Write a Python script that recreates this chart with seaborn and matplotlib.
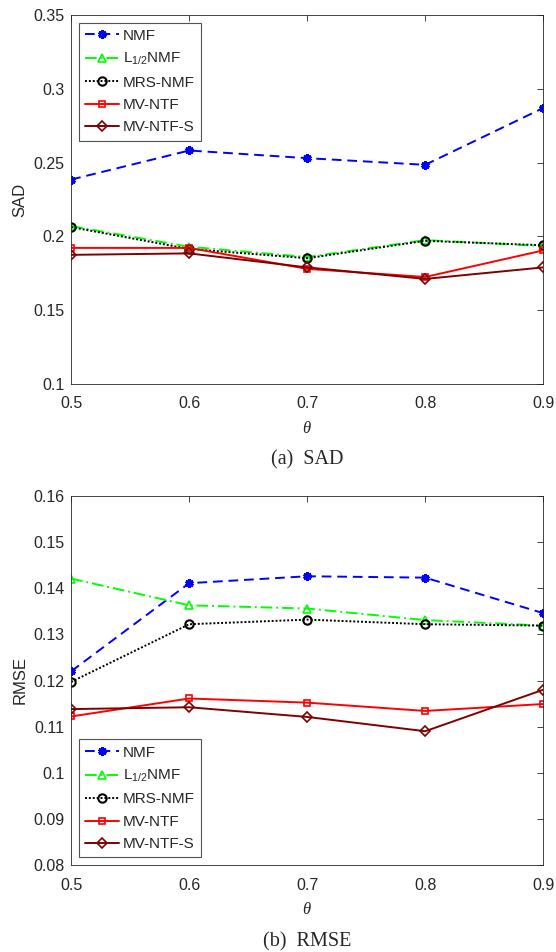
import numpy as np
import pandas as pd
import matplotlib
matplotlib.use('Agg')
import matplotlib.pyplot as plt
import seaborn as sns

# x values (theta)
theta = [0.5, 0.6, 0.7, 0.8, 0.9]
methods = ['NMF', 'L$_{1/2}$NMF', 'MRS-NMF', 'MV-NTF', 'MV-NTF-S']

# SAD values
sad_nmf = [0.2385, 0.2582, 0.2530, 0.2485, 0.2870]
sad_l12 = [0.2070, 0.1930, 0.1860, 0.1975, 0.1935]
sad_mrs = [0.2063, 0.1915, 0.1852, 0.1970, 0.1940]
sad_mvntf = [0.1922, 0.1922, 0.1780, 0.1725, 0.1905]
sad_mvntfs = [0.1875, 0.1885, 0.1790, 0.1712, 0.1790]

# RMSE values
rmse_nmf = [0.1220, 0.1411, 0.1426, 0.1423, 0.1346]
rmse_l12 = [0.1421, 0.1363, 0.1356, 0.1331, 0.1319]
rmse_mrs = [0.1197, 0.1322, 0.1332, 0.1322, 0.1319]
rmse_mvntf = [0.1122, 0.1161, 0.1152, 0.1134, 0.1149]
rmse_mvntfs = [0.1138, 0.1142, 0.1121, 0.1090, 0.1180]

styles = {
    'NMF': dict(color='#0000ff', linestyle=(0, (5, 3)), marker=(6, 2, 0), markersize=6, mew=2.2),
    'L$_{1/2}$NMF': dict(color='#00ff00', linestyle=(0, (6, 2, 1, 2)), marker='^', markersize=6, mfc='none', mew=1.2),
    'MRS-NMF': dict(color='black', linestyle=(0, (1, 1)), marker='o', markersize=6, mfc='none', mew=1.5),
    'MV-NTF': dict(color='#ff0000', linestyle='-', marker='s', markersize=5, mfc='none', mew=1.2),
    'MV-NTF-S': dict(color='#800000', linestyle='-', marker='D', markersize=5, mfc='none', mew=1.2),
}

sns.set_style('white')
plt.rcParams['font.family'] = ['Liberation Sans', 'DejaVu Sans']
plt.rcParams['mathtext.fontset'] = 'custom'
plt.rcParams['mathtext.rm'] = 'Liberation Sans'
plt.rcParams['mathtext.it'] = 'Liberation Serif:italic'

fig = plt.figure(figsize=(5.56, 9.52), dpi=100)
ax1 = fig.add_axes([0.128, 1 - 384 / 952, 0.849, 369 / 952])
ax2 = fig.add_axes([0.128, 1 - 865 / 952, 0.849, 369 / 952])

panels = [
    (ax1, [sad_nmf, sad_l12, sad_mrs, sad_mvntf, sad_mvntfs], 'SAD', (0.1, 0.35),
     np.arange(0.1, 0.351, 0.05), 'upper left', '(a)  SAD', 1 - 460 / 952),
    (ax2, [rmse_nmf, rmse_l12, rmse_mrs, rmse_mvntf, rmse_mvntfs], 'RMSE', (0.08, 0.16),
     np.arange(0.08, 0.161, 0.01), 'lower left', '(b)  RMSE', 1 - 942 / 952),
]

for ax, series, ylabel, ylim, yticks, loc, caption, cap_y in panels:
    for name, vals in zip(methods, series):
        df = pd.DataFrame({'theta': theta, 'value': vals})
        st = styles[name]
        sns.lineplot(data=df, x='theta', y='value', ax=ax, label=name,
                     color=st['color'], linestyle=st['linestyle'], marker=st['marker'],
                     markersize=st['markersize'], markeredgewidth=st['mew'],
                     markerfacecolor=st.get('mfc', st['color']),
                     markeredgecolor=st['color'], linewidth=1.4)
    ax.set_xlim(0.5, 0.9)
    ax.set_ylim(*ylim)
    ax.set_xticks(theta)
    ax.set_xticklabels([f'{t:g}' for t in theta])
    ax.set_yticks(yticks)
    ax.set_yticklabels([f'{t:g}' for t in yticks])
    ax.tick_params(direction='in', length=4, top=True, right=True, labelsize=11.5,
                   colors='#262626', width=0.6)
    ax.tick_params(axis='x', pad=9)
    ax.tick_params(axis='y', pad=5)
    for sp in ax.spines.values():
        sp.set_color('#262626')
        sp.set_linewidth(0.6)
    ax.set_ylabel(ylabel, fontsize=12, color='#262626', labelpad=4)
    ax.set_xlabel(r'$\it{\theta}$', fontsize=12, color='#262626', labelpad=6)
    leg = ax.legend(loc=loc, fontsize=11, frameon=True, fancybox=False, handlelength=2.2,
                    borderpad=0.4, labelspacing=0.55, handletextpad=0.3, edgecolor='#262626')
    leg.get_frame().set_linewidth(0.8)
    fig.text(0.128 + 0.849 / 2, cap_y, caption, ha='center', va='center',
             fontsize=14.5, family='Liberation Serif')

fig.savefig('out.png', dpi=100)
